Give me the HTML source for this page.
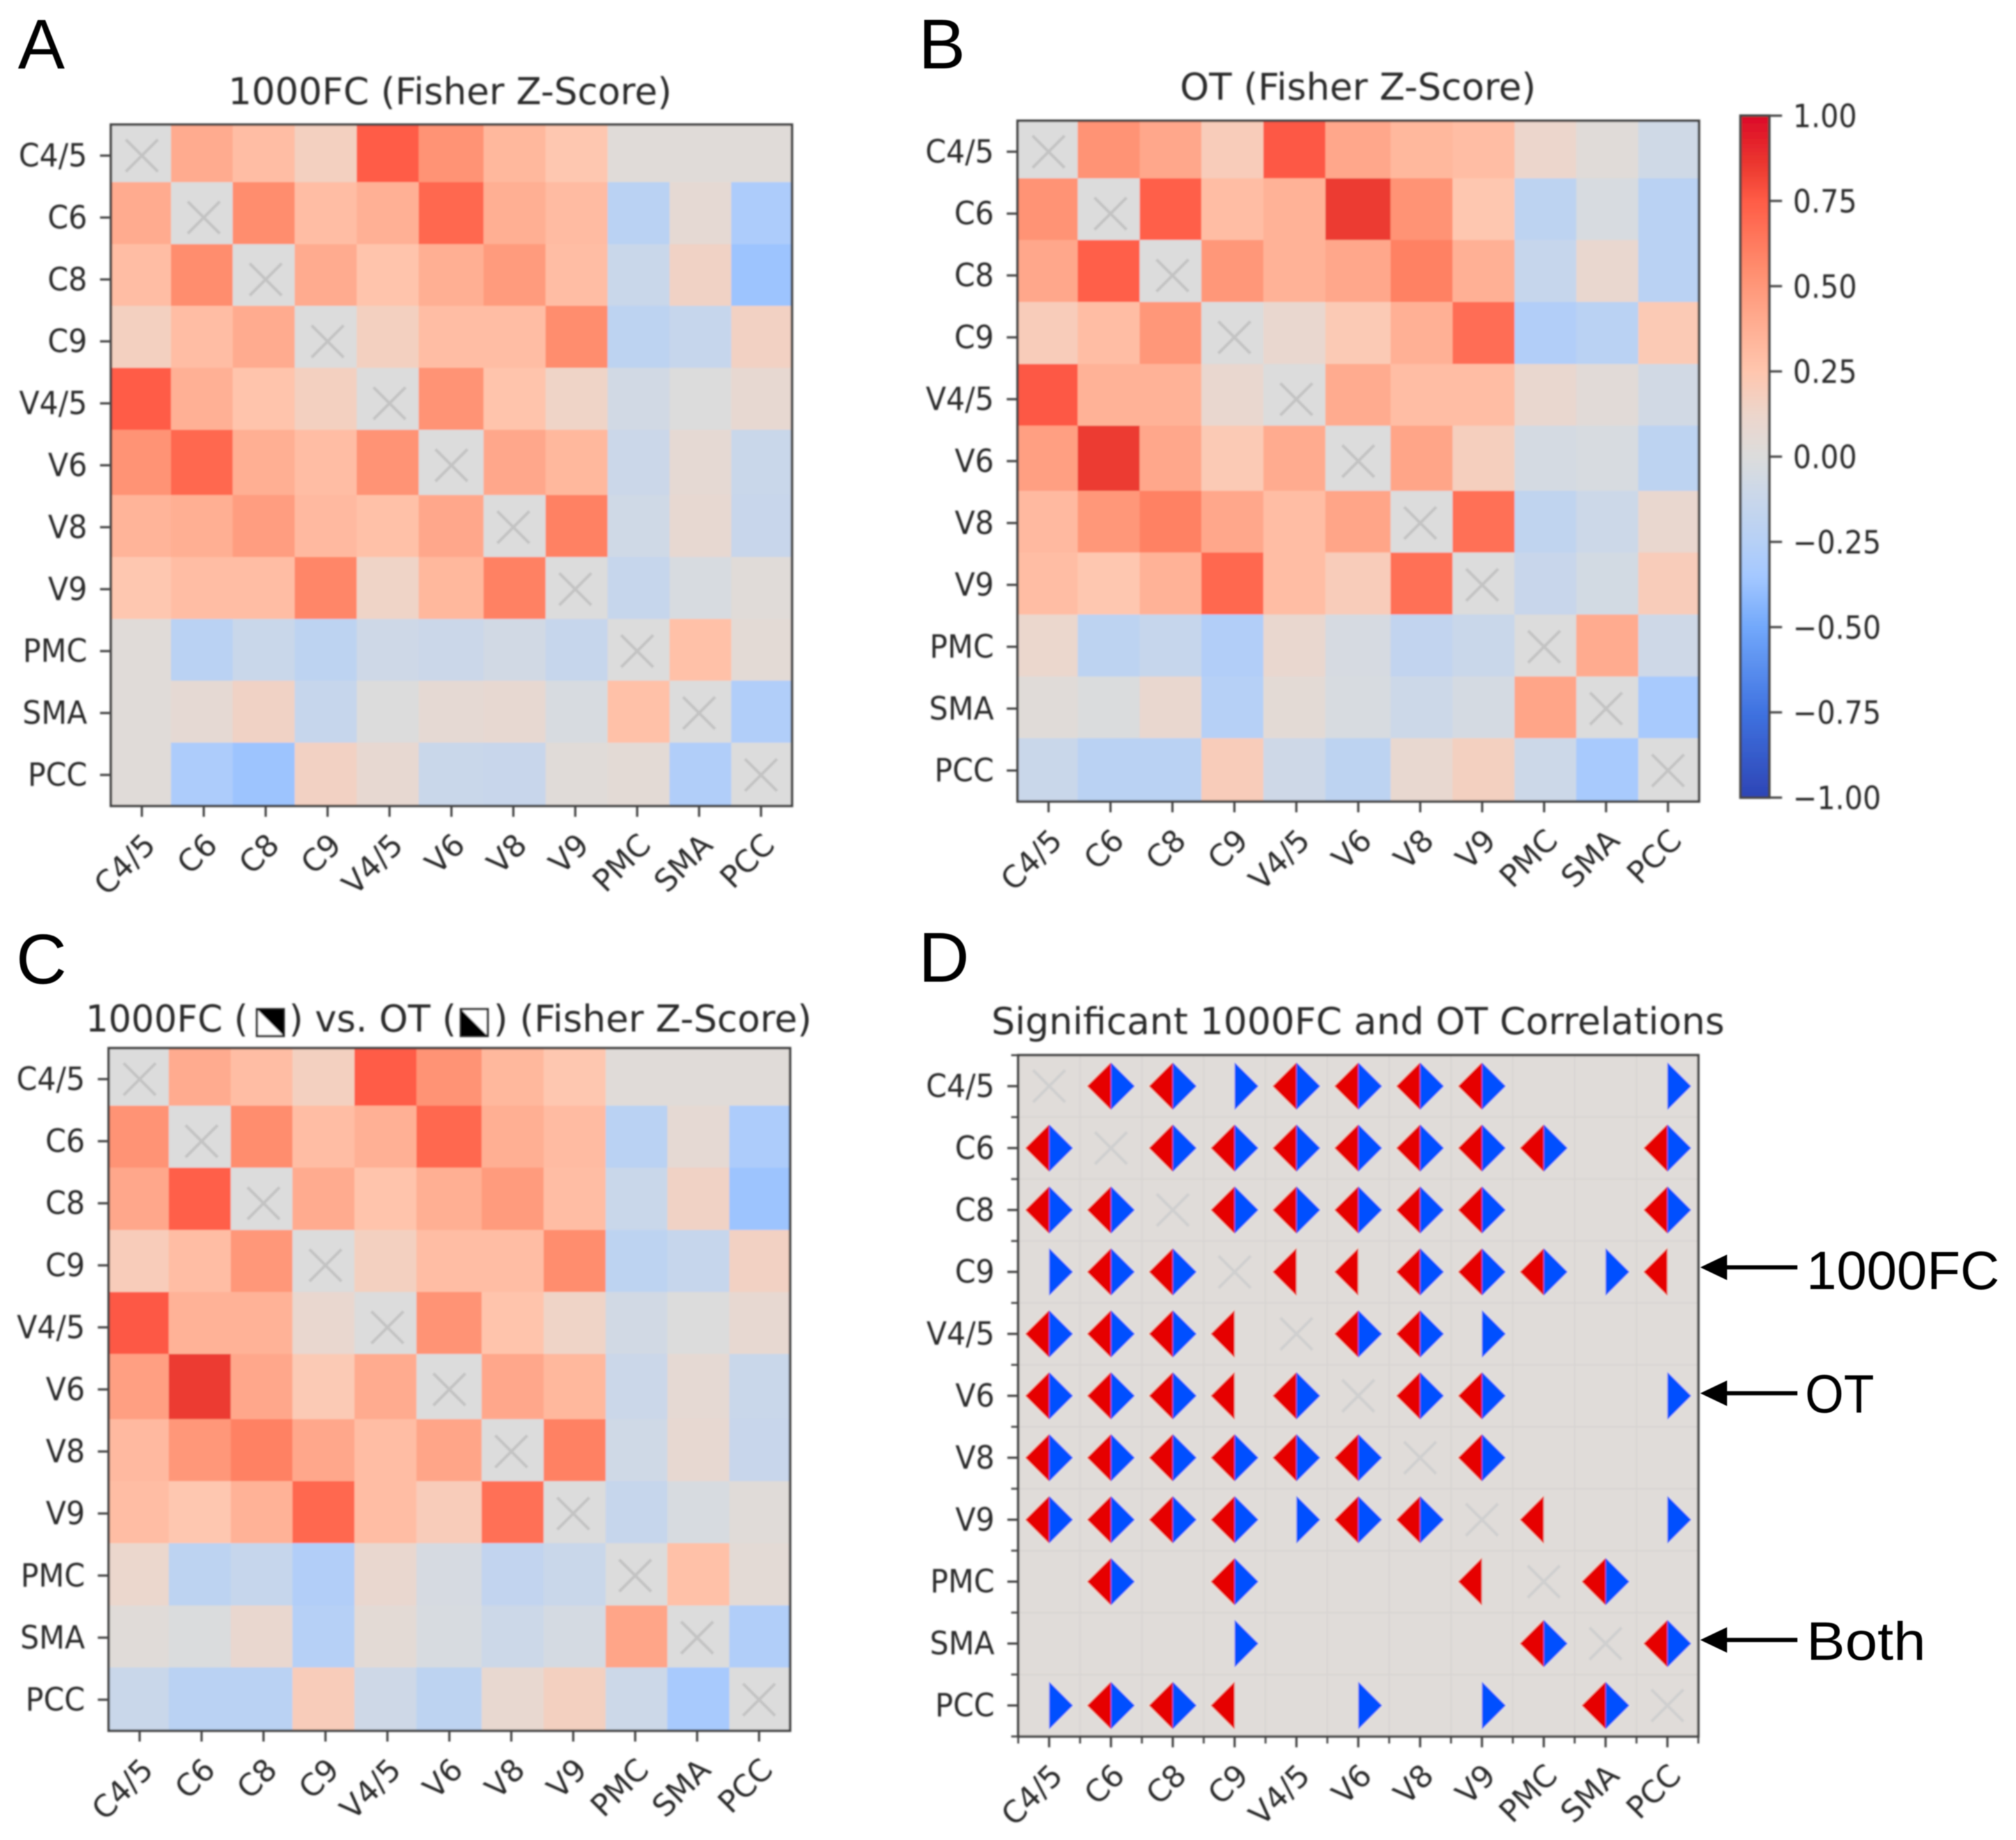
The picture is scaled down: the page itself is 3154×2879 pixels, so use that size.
<!DOCTYPE html>
<html lang="en">
<head>
<meta charset="utf-8">
<title>1000FC and OT Fisher Z-Score correlation matrices</title>
<style>
  html, body { margin: 0; padding: 0; background: #ffffff; }
  svg { display: block; }
  .title { font-family: "DejaVu Sans", "Liberation Sans", sans-serif; font-size: 58px; fill: #2c2c2c; }
  .tick-label { font-family: "DejaVu Sans", "Liberation Sans", sans-serif; font-size: 50px; fill: #2c2c2c; }
  .x-tick-label { font-family: "DejaVu Sans", "Liberation Sans", sans-serif; font-size: 48px; fill: #2c2c2c; }
  .letter { font-family: "Liberation Sans", sans-serif; font-size: 110px; fill: #000000; }
  .note { font-family: "Liberation Sans", sans-serif; font-size: 84px; fill: #000000; }
</style>
</head>
<body>
<svg id="fig" xmlns="http://www.w3.org/2000/svg" width="3154" height="2879" viewBox="0 0 3154 2879">
  <defs>
    <filter id="soft" filterUnits="userSpaceOnUse" x="0" y="0" width="3154" height="2879">
      <feGaussianBlur stdDeviation="1.3"/>
    </filter>
    <filter id="softer" filterUnits="userSpaceOnUse" x="0" y="0" width="3154" height="2879">
      <feGaussianBlur stdDeviation="0.7"/>
    </filter>
    <linearGradient id="cbar-gradient" x1="0" y1="1" x2="0" y2="0"></linearGradient>
  </defs>
  <rect x="0" y="0" width="3154" height="2879" fill="#ffffff"/>

  <g id="plots" filter="url(#soft)">
    <text class="title" x="357" y="163" textLength="694" lengthAdjust="spacingAndGlyphs">1000FC (Fisher Z-Score)</text>
    <text class="title" x="1846" y="156" textLength="557" lengthAdjust="spacingAndGlyphs">OT (Fisher Z-Score)</text>

    <g>
      <text class="title" x="134" y="1614" textLength="254" lengthAdjust="spacingAndGlyphs">1000FC (</text>
      <g>
        <rect x="402" y="1579" width="42" height="42" fill="#ffffff" stroke="#333333" stroke-width="3.5"/>
        <polygon points="402,1579 444,1579 444,1621" fill="#000000"/>
      </g>
      <text class="title" x="452" y="1614" textLength="262" lengthAdjust="spacingAndGlyphs">) vs. OT (</text>
      <g>
        <rect x="721" y="1579" width="42" height="42" fill="#ffffff" stroke="#333333" stroke-width="3.5"/>
        <polygon points="721,1579 763,1621 721,1621" fill="#000000"/>
      </g>
      <text class="title" x="772" y="1614" textLength="498" lengthAdjust="spacingAndGlyphs">) (Fisher Z-Score)</text>
    </g>

    <text class="title" x="1551" y="1618" textLength="1147" lengthAdjust="spacingAndGlyphs">Significant 1000FC and OT Correlations</text>
  </g>

  <g filter="url(#softer)">
    <text class="letter" x="28" y="107">A</text>
    <text class="letter" x="1437" y="107">B</text>
    <text class="letter" x="25" y="1539">C</text>
    <text class="letter" x="1437" y="1536">D</text>

    <g>
      <line x1="2695" y1="1983" x2="2812" y2="1983" stroke="#000" stroke-width="6.5"/>
      <polygon points="2660,1983 2702,1963 2702,2003" fill="#000"/>
    </g>
    <text class="note" x="2826" y="2017" textLength="302" lengthAdjust="spacingAndGlyphs">1000FC</text>

    <g>
      <line x1="2695" y1="2180" x2="2812" y2="2180" stroke="#000" stroke-width="6.5"/>
      <polygon points="2660,2180 2702,2160 2702,2200" fill="#000"/>
    </g>
    <text class="note" x="2824" y="2210" textLength="108" lengthAdjust="spacingAndGlyphs">OT</text>

    <g>
      <line x1="2695" y1="2566" x2="2812" y2="2566" stroke="#000" stroke-width="6.5"/>
      <polygon points="2660,2566 2702,2546 2702,2586" fill="#000"/>
    </g>
    <text class="note" x="2826" y="2597" textLength="187" lengthAdjust="spacingAndGlyphs">Both</text>
  </g>
</svg>

<script>
const categories = ['C4/5','C6','C8','C9','V4/5','V6','V8','V9','PMC','SMA','PCC'];

const fc1000Values = [
  [ 0.00, 0.40, 0.30, 0.17, 0.75, 0.52, 0.33, 0.24, 0.03, 0.03, 0.03],
  [ 0.40, 0.00, 0.55, 0.30, 0.37, 0.70, 0.38, 0.31,-0.22, 0.07,-0.30],
  [ 0.30, 0.55, 0.00, 0.40, 0.26, 0.38, 0.48, 0.30,-0.12, 0.15,-0.37],
  [ 0.17, 0.30, 0.40, 0.00, 0.17, 0.30, 0.30, 0.55,-0.20,-0.14, 0.16],
  [ 0.75, 0.37, 0.26, 0.17, 0.00, 0.52, 0.26, 0.14,-0.07, 0.00, 0.08],
  [ 0.52, 0.70, 0.38, 0.30, 0.52, 0.00, 0.42, 0.33,-0.11, 0.07,-0.12],
  [ 0.35, 0.38, 0.47, 0.32, 0.28, 0.42, 0.00, 0.60,-0.08, 0.08,-0.13],
  [ 0.24, 0.30, 0.30, 0.58, 0.14, 0.33, 0.60, 0.00,-0.14,-0.03, 0.03],
  [ 0.03,-0.22,-0.12,-0.20,-0.09,-0.11,-0.07,-0.14, 0.00, 0.28, 0.05],
  [ 0.03, 0.07, 0.15,-0.14, 0.00, 0.07, 0.08,-0.03, 0.28, 0.00,-0.28],
  [ 0.03,-0.30,-0.37, 0.16, 0.08,-0.12,-0.13, 0.03, 0.05,-0.28, 0.00]
];

const otValues = [
  [ 0.00, 0.52, 0.42, 0.20, 0.76, 0.42, 0.33, 0.30, 0.12, 0.03,-0.08],
  [ 0.52, 0.00, 0.74, 0.30, 0.36, 0.85, 0.52, 0.24,-0.20,-0.03,-0.22],
  [ 0.42, 0.74, 0.00, 0.50, 0.36, 0.42, 0.60, 0.37,-0.14, 0.10,-0.22],
  [ 0.20, 0.30, 0.50, 0.00, 0.10, 0.22, 0.37, 0.68,-0.27,-0.22, 0.22],
  [ 0.76, 0.36, 0.36, 0.10, 0.00, 0.40, 0.30, 0.30, 0.10, 0.04,-0.07],
  [ 0.46, 0.85, 0.42, 0.22, 0.40, 0.00, 0.43, 0.18,-0.05,-0.03,-0.20],
  [ 0.32, 0.50, 0.60, 0.42, 0.30, 0.43, 0.00, 0.67,-0.18,-0.10, 0.10],
  [ 0.30, 0.24, 0.36, 0.70, 0.30, 0.20, 0.67, 0.00,-0.13,-0.06, 0.20],
  [ 0.11,-0.20,-0.14,-0.27, 0.10,-0.04,-0.17,-0.12, 0.00, 0.40,-0.09],
  [ 0.03,-0.01, 0.10,-0.25, 0.05,-0.03,-0.10,-0.05, 0.43, 0.00,-0.33],
  [-0.12,-0.22,-0.22, 0.20,-0.09,-0.20, 0.09, 0.17,-0.10,-0.33, 0.00]
];

const significantFC = [
  [0,1,1,0,1,1,1,1,0,0,0],
  [1,0,1,1,1,1,1,1,1,0,1],
  [1,1,0,1,1,1,1,1,0,0,1],
  [0,1,1,0,1,1,1,1,1,0,1],
  [1,1,1,1,0,1,1,0,0,0,0],
  [1,1,1,1,1,0,1,1,0,0,0],
  [1,1,1,1,1,1,0,1,0,0,0],
  [1,1,1,1,0,1,1,0,1,0,0],
  [0,1,0,1,0,0,0,1,0,1,0],
  [0,0,0,0,0,0,0,0,1,0,1],
  [0,1,1,1,0,0,0,0,0,1,0]
];

const significantOT = [
  [0,1,1,1,1,1,1,1,0,0,1],
  [1,0,1,1,1,1,1,1,1,0,1],
  [1,1,0,1,1,1,1,1,0,0,1],
  [1,1,1,0,0,0,1,1,1,1,0],
  [1,1,1,0,0,1,1,1,0,0,0],
  [1,1,1,0,1,0,1,1,0,0,1],
  [1,1,1,1,1,1,0,1,0,0,0],
  [1,1,1,1,1,1,1,0,0,0,1],
  [0,1,0,1,0,0,0,0,0,1,0],
  [0,0,0,1,0,0,0,0,1,0,1],
  [1,1,1,0,0,1,0,1,0,1,0]
];

const colorbarTicks = [1, 0.75, 0.5, 0.25, 0, -0.25, -0.5, -0.75, -1];
const colorbarTickLabels = ['1.00','0.75','0.50','0.25','0.00','\u22120.25','\u22120.50','\u22120.75','\u22121.00'];

const colormapValues = [-1, -0.75, -0.5, -0.35, -0.25, -0.1, 0, 0.12, 0.25, 0.4, 0.55, 0.75, 0.85, 1];
const colormapColors = ['#2d45b5','#3f72e0','#72a8fb','#a4c8ff','#b6d0f6','#ccd8e8','#dcdcdc','#ecd6cc','#ffc6ae','#ffab8f','#ff8d6e','#ff5c46','#ec3a30','#dc0a28'];

const SVG_NS = 'http://www.w3.org/2000/svg';
const plots = document.getElementById('plots');

function make(tag, attrs, parent) {
  const el = document.createElementNS(SVG_NS, tag);
  for (const k in attrs) el.setAttribute(k, attrs[k]);
  parent.appendChild(el);
  return el;
}

function hexToRgb(h) {
  return [parseInt(h.slice(1,3),16), parseInt(h.slice(3,5),16), parseInt(h.slice(5,7),16)];
}

function colorFor(v) {
  const n = colormapValues.length;
  if (v <= colormapValues[0]) return colormapColors[0];
  if (v >= colormapValues[n-1]) return colormapColors[n-1];
  for (let i = 0; i < n-1; i++) {
    if (v <= colormapValues[i+1]) {
      const t = (v - colormapValues[i]) / (colormapValues[i+1] - colormapValues[i]);
      const a = hexToRgb(colormapColors[i]);
      const b = hexToRgb(colormapColors[i+1]);
      return 'rgb(' + a.map((c, j) => Math.round(c + (b[j]-c)*t)).join(',') + ')';
    }
  }
  return colormapColors[n-1];
}

function axisScales(box) {
  const n = categories.length;
  const sx = (box.right - box.left) / n;
  const sy = (box.bottom - box.top) / n;
  return {
    sx, sy,
    x: i => box.left + (i + 0.5) * sx,
    y: i => box.top + (i + 0.5) * sy,
    colEdge: k => k <= 0 ? box.left : k >= n ? box.right : box.left + k * sx + (k < 6 ? -3 : 2),
    rowEdge: k => k <= 0 ? box.top : k >= n ? box.bottom : box.top + k * sy + (k < 6 ? -7 : -2)
  };
}

function drawCrossMark(parent, cx, cy, color) {
  const g = make('g', { stroke: color, 'stroke-width': 4.5, fill: 'none' }, parent);
  
  
  make('line', { x1: cx-25, y1: cy-25, x2: cx+25, y2: cy+25 }, g);
  make('line', { x1: cx-25, y1: cy+25, x2: cx+25, y2: cy-25 }, g);
}

function drawAxes(parent, box, sc, minor) {
  const frame = make('rect', {
    x: box.left, y: box.top, width: box.right-box.left, height: box.bottom-box.top,
    fill: 'none', stroke: '#444444', 'stroke-width': 4
  }, parent);
  
  

  categories.forEach((name, i) => {
    const yTick = make('line', { x1: box.left-17, x2: box.left, y1: sc.y(i), y2: sc.y(i), stroke: '#444444', 'stroke-width': 3.5 }, parent);
    
    

    const xTick = make('line', { x1: sc.x(i), x2: sc.x(i), y1: box.bottom, y2: box.bottom+17, stroke: '#444444', 'stroke-width': 3.5 }, parent);
    
    

    const yLabel = make('text', {
      class: 'tick-label', 'text-anchor': 'end',
      transform: 'translate(' + (box.left-37) + ',' + (sc.y(i)+17) + ') scale(0.93,1)'
    }, parent);
    yLabel.textContent = name;
    
    

    const xLabel = make('text', {
      class: 'x-tick-label', 'text-anchor': 'end',
      transform: 'translate(' + (sc.x(i)+24) + ',' + (box.bottom+64) + ') rotate(-45)'
    }, parent);
    xLabel.textContent = name;
    
    
  });

  if (minor) {
    for (let k = 0; k <= categories.length; k++) {
      const xp = box.left + k * sc.sx;
      const yp = box.top + k * sc.sy;
      const mx = make('line', { x1: xp, x2: xp, y1: box.bottom, y2: box.bottom+11, stroke: '#444444', 'stroke-width': 3 }, parent);
      
      
      const my = make('line', { x1: box.left-11, x2: box.left, y1: yp, y2: yp, stroke: '#444444', 'stroke-width': 3 }, parent);
      
      
    }
  }
}

function drawHeatmap(name, matrix, box) {
  const sc = axisScales(box);
  const g = make('g', {}, plots);
  
  
  matrix.forEach((row, r) => {
    row.forEach((v, c) => {
      const x0 = sc.colEdge(c), x1 = sc.colEdge(c+1);
      const y0 = sc.rowEdge(r), y1 = sc.rowEdge(r+1);
      const cell = make('rect', {
        x: x0, y: y0, width: x1-x0, height: y1-y0,
        fill: colorFor(v), 'shape-rendering': 'crispEdges'
      }, g);
      
      
    });
  });
  categories.forEach((_, i) => drawCrossMark(g, sc.x(i), sc.y(i), '#c3c3c3'));
  drawAxes(g, box, sc, false);
}

function drawHalfDiamond(parent, cx, cy, R, side, color, name) {
  const tipX = cx + side * R;
  const halo = make('polyline', {
    points: [cx, cy-R, tipX, cy, cx, cy+R].join(' '),
    fill: 'none', stroke: '#efeadf', 'stroke-width': 3
  }, parent);
  
  
  const shape = make('polygon', {
    points: [cx, cy-R, tipX, cy, cx, cy+R].join(' '),
    fill: color
  }, parent);
  
  
}

function drawSignificance(name, box) {
  const sc = axisScales(box);
  const g = make('g', {}, plots);
  
  
  const bg = make('rect', { x: box.left, y: box.top, width: box.right-box.left, height: box.bottom-box.top, fill: '#e0dcd9' }, g);
  
  

  for (let k = 1; k < categories.length; k++) {
    const xp = box.left + k * sc.sx;
    const yp = box.top + k * sc.sy;
    const gv = make('line', { x1: xp, x2: xp, y1: box.top, y2: box.bottom, stroke: '#d7d4d1', 'stroke-width': 2 }, g);
    
    
    const gh = make('line', { x1: box.left, x2: box.right, y1: yp, y2: yp, stroke: '#d7d4d1', 'stroke-width': 2 }, g);
    
    
  }

  const R = 37.5;
  categories.forEach((_, r) => {
    categories.forEach((_, c) => {
      const cx = sc.x(c), cy = sc.y(r);
      if (r === c) { drawCrossMark(g, cx, cy, '#cfcfcf'); return; }
      if (significantFC[r][c]) drawHalfDiamond(g, cx, cy, R, -1, '#e60000', 'marker-1000fc');
      if (significantOT[r][c]) drawHalfDiamond(g, cx, cy, R, 1, '#0050ff', 'marker-ot');
    });
  });
  drawAxes(g, box, sc, true);
}

function drawColorbar(box) {
  const grad = document.getElementById('cbar-gradient');
  colormapValues.forEach((v, i) => {
    make('stop', { offset: ((v+1)/2*100) + '%', 'stop-color': colormapColors[i] }, grad);
  });
  const g = make('g', {}, plots);
  
  
  const bar = make('rect', {
    x: box.left, y: box.top, width: box.right-box.left, height: box.bottom-box.top,
    fill: 'url(#cbar-gradient)', stroke: '#444444', 'stroke-width': 4
  }, g);
  
  
  const y = v => box.bottom - (v+1)/2 * (box.bottom-box.top);
  colorbarTicks.forEach((v, i) => {
    const tick = make('line', { x1: box.right, x2: box.right+20, y1: y(v), y2: y(v), stroke: '#444444', 'stroke-width': 3.5 }, g);
    
    
    const label = make('text', {
      class: 'tick-label',
      transform: 'translate(' + (box.right+37) + ',' + (y(v)+18) + ') scale(0.9,1)'
    }, g);
    label.textContent = colorbarTickLabels[i];
    
    
  });
}

const comparisonValues = categories.map((_, r) => categories.map((_, c) => c >= r ? fc1000Values[r][c] : otValues[r][c]));

drawHeatmap('panel-a-heatmap', fc1000Values, { left: 173.5, right: 1239, top: 195, bottom: 1261 });
drawHeatmap('panel-b-heatmap', otValues, { left: 1592, right: 2658, top: 189, bottom: 1254 });
drawHeatmap('panel-c-heatmap', comparisonValues, { left: 170, right: 1236, top: 1640, bottom: 2708 });
drawSignificance('panel-d-significance', { left: 1593, right: 2657, top: 1651, bottom: 2717 });
drawColorbar({ left: 2723, right: 2768, top: 181, bottom: 1248 });
</script>
</body>
</html>
